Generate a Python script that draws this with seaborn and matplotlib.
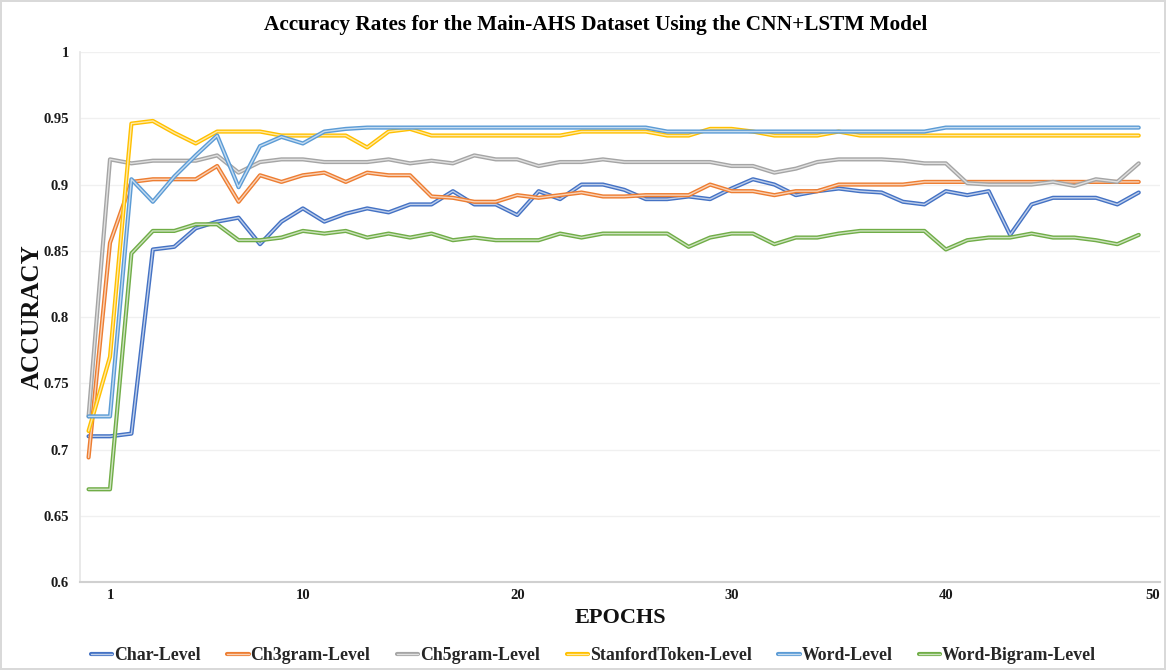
import numpy as np
import pandas as pd
import matplotlib
matplotlib.use("Agg")
import matplotlib.pyplot as plt
import matplotlib.patheffects as pe
from matplotlib.lines import Line2D
from matplotlib.colors import to_rgb
import seaborn as sns

# Epoch index of each recorded value
epochs = np.arange(0, 50)

char_level = [0.710, 0.710, 0.712, 0.851, 0.853, 0.867, 0.872, 0.875, 0.855, 0.872,
              0.882, 0.872, 0.878, 0.882, 0.879, 0.885, 0.885, 0.895, 0.885, 0.885,
              0.877, 0.895, 0.889, 0.900, 0.900, 0.896, 0.889, 0.889, 0.891, 0.889,
              0.897, 0.904, 0.900, 0.892, 0.895, 0.897, 0.895, 0.894, 0.887, 0.885,
              0.895, 0.892, 0.895, 0.862, 0.885, 0.890, 0.890, 0.890, 0.885, 0.894]
ch3gram_level = [0.694, 0.856, 0.902, 0.904, 0.904, 0.904, 0.914, 0.887, 0.907, 0.902,
                 0.907, 0.909, 0.902, 0.909, 0.907, 0.907, 0.891, 0.890, 0.887, 0.887,
                 0.892, 0.890, 0.892, 0.894, 0.891, 0.891, 0.892, 0.892, 0.892, 0.900,
                 0.895, 0.895, 0.892, 0.895, 0.895, 0.900, 0.900, 0.900, 0.900, 0.902,
                 0.902, 0.902, 0.902, 0.902, 0.902, 0.902, 0.902, 0.902, 0.902, 0.902]
ch5gram_level = [0.725, 0.919, 0.916, 0.918, 0.918, 0.918, 0.922, 0.909, 0.917, 0.919,
                 0.919, 0.917, 0.917, 0.917, 0.919, 0.916, 0.918, 0.916, 0.922, 0.919,
                 0.919, 0.914, 0.917, 0.917, 0.919, 0.917, 0.917, 0.917, 0.917, 0.917,
                 0.914, 0.914, 0.909, 0.912, 0.917, 0.919, 0.919, 0.919, 0.918, 0.916,
                 0.916, 0.901, 0.900, 0.900, 0.900, 0.902, 0.899, 0.904, 0.902, 0.916]
stanford_level = [0.714, 0.770, 0.946, 0.948, 0.939, 0.931, 0.940, 0.940, 0.940, 0.937,
                  0.937, 0.937, 0.937, 0.928, 0.940, 0.942, 0.937, 0.937, 0.937, 0.937,
                  0.937, 0.937, 0.937, 0.940, 0.940, 0.940, 0.940, 0.937, 0.937, 0.942,
                  0.942, 0.940, 0.937, 0.937, 0.937, 0.940, 0.937, 0.937, 0.937, 0.937,
                  0.937, 0.937, 0.937, 0.937, 0.937, 0.937, 0.937, 0.937, 0.937, 0.937]
word_level = [0.725, 0.725, 0.904, 0.887, 0.906, 0.922, 0.937, 0.898, 0.929, 0.936,
              0.931, 0.940, 0.942, 0.943, 0.943, 0.943, 0.943, 0.943, 0.943, 0.943,
              0.943, 0.943, 0.943, 0.943, 0.943, 0.943, 0.943, 0.940, 0.940, 0.940,
              0.940, 0.940, 0.940, 0.940, 0.940, 0.940, 0.940, 0.940, 0.940, 0.940,
              0.943, 0.943, 0.943, 0.943, 0.943, 0.943, 0.943, 0.943, 0.943, 0.943]
word_bigram_level = [0.670, 0.670, 0.848, 0.865, 0.865, 0.870, 0.870, 0.858, 0.858, 0.860,
                     0.865, 0.863, 0.865, 0.860, 0.863, 0.860, 0.863, 0.858, 0.860, 0.858,
                     0.858, 0.858, 0.863, 0.860, 0.863, 0.863, 0.863, 0.863, 0.853, 0.860,
                     0.863, 0.863, 0.855, 0.860, 0.860, 0.863, 0.865, 0.865, 0.865, 0.865,
                     0.851, 0.858, 0.860, 0.860, 0.863, 0.860, 0.860, 0.858, 0.855, 0.862]

series_names = ["Char-Level", "Ch3gram-Level", "Ch5gram-Level",
                "StanfordToken-Level", "Word-Level", "Word-Bigram-Level"]
series_values = [char_level, ch3gram_level, ch5gram_level,
                 stanford_level, word_level, word_bigram_level]
series_colors = ["#4472C4", "#ED7D31", "#A5A5A5", "#FFC000", "#5B9BD5", "#70AD47"]

x_ticks = [1, 10, 20, 30, 40, 50]
y_ticks = [0.6, 0.65, 0.7, 0.75, 0.8, 0.85, 0.9, 0.95, 1.0]
y_tick_labels = ["0.6", "0.65", "0.7", "0.75", "0.8", "0.85", "0.9", "0.95", "1"]

df = pd.concat(
    [pd.DataFrame({"Epoch": epochs, "Accuracy": vals, "Model": name})
     for name, vals in zip(series_names, series_values)],
    ignore_index=True,
)

sns.set_theme(style="white")
plt.rcParams["font.family"] = ["Liberation Serif", "DejaVu Serif"]
plt.rcParams["font.weight"] = "bold"

fig = plt.figure(figsize=(11.66, 6.70), dpi=100)
fig.patch.set_edgecolor("#d9d9d9")
fig.patch.set_linewidth(1.5)
ax = fig.add_axes([0.0686, 0.1313, 0.9264, 0.7910])

palette = dict(zip(series_names, series_colors))
sns.lineplot(data=df, x="Epoch", y="Accuracy", hue="Model", palette=palette,
             hue_order=series_names, linewidth=3.0, ax=ax, legend=False,
             estimator=None, sort=False)


def lighten(color, amount):
    r, g, b = to_rgb(color)
    return (r + (1 - r) * amount, g + (1 - g) * amount, b + (1 - b) * amount)


# Excel-like double stroke: colored outline with a pale core
def double_stroke(color):
    return [pe.Stroke(linewidth=3.0, foreground=color),
            pe.Stroke(linewidth=1.0, foreground=lighten(color, 0.65))]


for line, color in zip(ax.get_lines(), series_colors):
    line.set_path_effects(double_stroke(color))

ax.set_xlim(-0.4, 49.9)
ax.set_ylim(0.6, 1.0)
ax.set_xticks(x_ticks)
ax.set_xticklabels([str(t) for t in x_ticks], fontsize=10.5, fontweight="bold")
# keep the last label inside the figure edge
ax.get_xticklabels()[-1].set_ha("right")
ax.set_yticks(y_ticks)
ax.set_yticklabels(y_tick_labels, fontsize=10.5, fontweight="bold")
ax.tick_params(axis="both", length=0, pad=8, colors="#1a1a1a")
ax.tick_params(axis="x", pad=5)

ax.grid(axis="y", color="#f0f0f0", linewidth=1.0)
for side in ["top", "right"]:
    ax.spines[side].set_visible(False)
ax.spines["left"].set_color("#e6e6e6")
ax.spines["bottom"].set_color("#d0d0d0")
ax.spines["bottom"].set_linewidth(1.5)

ax.set_xlabel("EPOCHS", fontsize=16, fontweight="bold", labelpad=4, color="#111111")
ax.set_ylabel("ACCURACY", fontsize=18, fontweight="bold", labelpad=0, color="#111111")
fig.suptitle("Accuracy Rates for the Main-AHS Dataset Using the CNN+LSTM Model",
             fontsize=15.3, fontweight="bold", x=0.511, y=0.978, color="black")

handles = [Line2D([0], [0], color=c, linewidth=3.0, path_effects=double_stroke(c))
           for c in series_colors]
fig.legend(handles, series_names, loc="lower center", bbox_to_anchor=(0.509, -0.015),
           ncol=6, frameon=False, handlelength=1.2, handletextpad=0.1,
           columnspacing=1.5, prop={"size": 12.8, "weight": "bold"})

fig.savefig("out.png", dpi=100, edgecolor=fig.get_edgecolor())
